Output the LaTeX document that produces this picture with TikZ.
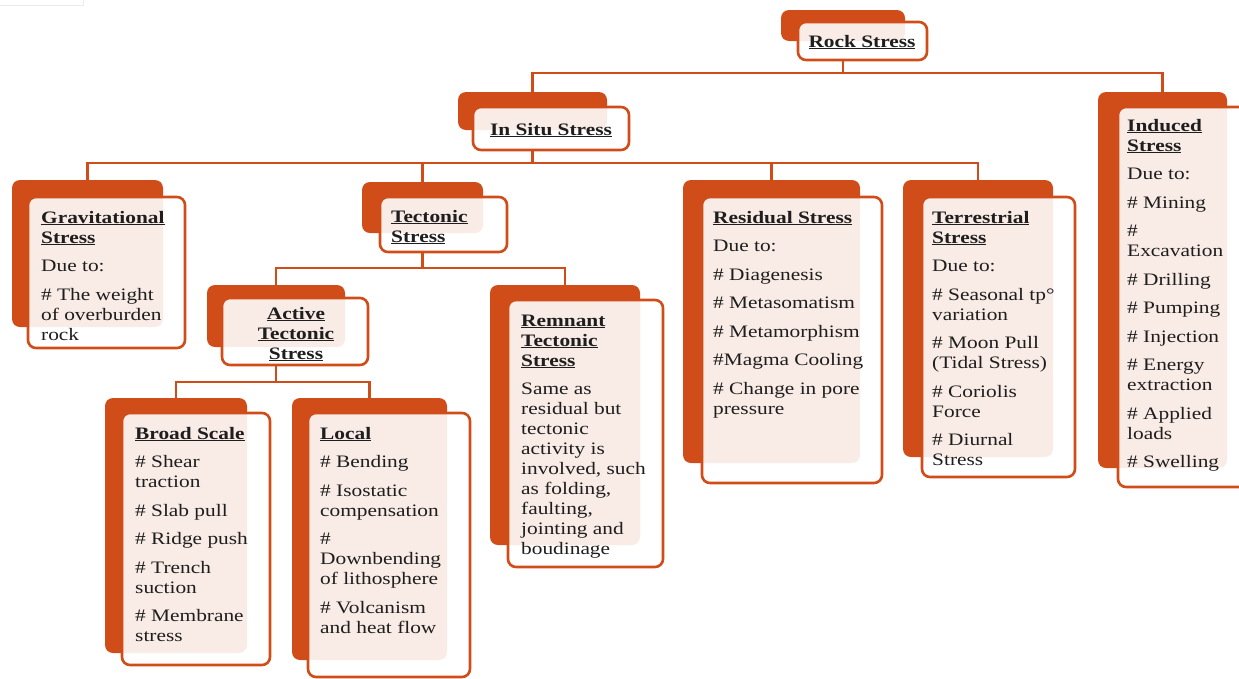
\documentclass[tikz,border=0pt]{standalone}
\usepackage{fontspec}
\setmainfont{Liberation Serif}[FakeStretch=1.22]
\definecolor{orng}{RGB}{208,76,24}
\definecolor{txtc}{RGB}{30,30,30}
\newcommand{\fs}{\fontsize{17.5}{20}\selectfont}
\newcommand{\hd}[1]{\underline{\textbf{#1}}}
\newcommand{\gp}{\\[8.5pt]}
\newcommand{\bx}[5]{\node[boxshape, minimum width={#4-#2}, minimum height={#5-#3}] (#1) at ({(#2+#4)/2},{(#3+#5)/2}) {};}
\tikzset{
  boxshape/.style={rectangle, rounded corners=8pt, inner sep=0pt, outer sep=0pt},
  back/.style={fill=orng},
  front/.style={draw=orng, line width=2.6pt, fill=white, fill opacity=0.89},
  conn/.style={draw=orng, line width=2.6pt},
  txt/.style={anchor=base west, inner sep=0pt, font=\fs, text=txtc},
  ctxt/.style={anchor=base, inner sep=0pt, font=\fs, text=txtc}
}
\begin{document}
\begin{tikzpicture}[x=1pt,y=-1pt]
\useasboundingbox (0,0) rectangle (1239,678);
\draw[black!8, line width=1pt] (0,5) -- (83,5) -- (83,0);
% back rectangles
\begin{scope}[every node/.append style={back}]
\bx{rockB}{781}{10}{905}{41}
\bx{insituB}{458}{92}{607}{130}
\bx{gravB}{12}{180}{163}{327}
\bx{tectB}{362}{182}{483}{233}
\bx{activeB}{207}{285}{345}{347}
\bx{broadB}{105}{398}{247}{653}
\bx{localB}{292}{398}{447}{660}
\bx{remB}{490}{285}{640}{545}
\bx{resB}{683}{180}{860}{463}
\bx{terrB}{903}{180}{1053}{457}
\bx{indB}{1098}{92}{1227}{468}
\end{scope}
% front boxes
\begin{scope}[every node/.append style={front}]
\bx{rockF}{798}{22}{927}{60}
\bx{insituF}{473}{107}{629}{150}
\bx{gravF}{28}{197}{185}{348}
\bx{tectF}{380}{197}{507}{252}
\bx{activeF}{222}{298}{368}{365}
\bx{broadF}{122}{413}{270}{665}
\bx{localF}{308}{413}{470}{677}
\bx{remF}{508}{300}{663}{567}
\bx{resF}{702}{197}{882}{483}
\bx{terrF}{922}{197}{1075}{477}
\bx{indF}{1118}{107}{1252}{487}
\end{scope}
% connectors
\draw[conn] (rockB.center |- rockF.south) -- ++(0,13) -| (insituB.north);
\draw[conn] (rockB.center |- rockF.south) -- ++(0,13) -| (indB.north);
\foreach \c in {gravB,tectB,resB,terrB}
  \draw[conn] (insituB.center |- insituF.south) -- ++(0,13) -| (\c.north);
\foreach \c in {activeB,remB}
  \draw[conn] (tectB.center |- tectF.south) -- ++(0,16) -| (\c.north);
\foreach \c in {broadB,localB}
  \draw[conn] (activeB.center |- activeF.south) -- ++(0,17) -| (\c.north);
% texts
\node[ctxt] (rockT) at (862,47) {\hd{Rock Stress}};
\node[ctxt] (insituT) at (551,135) {\hd{In Situ Stress}};
\node[txt] (gravT) at (41,223) {\parbox[t]{200pt}{\raggedright\hd{Gravitational}\\\hd{Stress}\gp Due to:\gp \# The weight\\of overburden\\rock}};
\node[txt] (tectT) at (391,222) {\parbox[t]{200pt}{\raggedright\hd{Tectonic}\\\hd{Stress}}};
\node[ctxt] (activeT) at (296,319) {\parbox[t]{150pt}{\centering\hd{Active}\\\hd{Tectonic}\\\hd{Stress}}};
\node[txt] (broadT) at (135,439) {\parbox[t]{200pt}{\raggedright\hd{Broad Scale}\gp \# Shear\\traction\gp \# Slab pull\gp \# Ridge push\gp \# Trench\\suction\gp \# Membrane\\stress}};
\node[txt] (localT) at (320,439) {\parbox[t]{200pt}{\raggedright\hd{Local}\gp \# Bending\gp \# Isostatic\\compensation\gp \#\\Downbending\\of lithosphere\gp \# Volcanism\\and heat flow}};
\node[txt] (remT) at (521,326) {\parbox[t]{200pt}{\raggedright\hd{Remnant}\\\hd{Tectonic}\\\hd{Stress}\gp Same as\\residual but\\tectonic\\activity is\\involved, such\\as folding,\\faulting,\\jointing and\\boudinage}};
\node[txt] (resT) at (713,223) {\parbox[t]{200pt}{\raggedright\hd{Residual Stress}\gp Due to:\gp \# Diagenesis\gp \# Metasomatism\gp \# Metamorphism\gp \#Magma Cooling\gp \# Change in pore\\pressure}};
\node[txt] (terrT) at (932,223) {\parbox[t]{200pt}{\raggedright\hd{Terrestrial}\\\hd{Stress}\gp Due to:\gp \# Seasonal tp°\\variation\gp \# Moon Pull\\(Tidal Stress)\gp \# Coriolis\\Force\gp \# Diurnal\\Stress}};
\node[txt] (indT) at (1127,131) {\parbox[t]{200pt}{\raggedright\hd{Induced}\\\hd{Stress}\gp Due to:\gp \# Mining\gp \#\\Excavation\gp \# Drilling\gp \# Pumping\gp \# Injection\gp \# Energy\\extraction\gp \# Applied\\loads\gp \# Swelling}};
\end{tikzpicture}
\end{document}
